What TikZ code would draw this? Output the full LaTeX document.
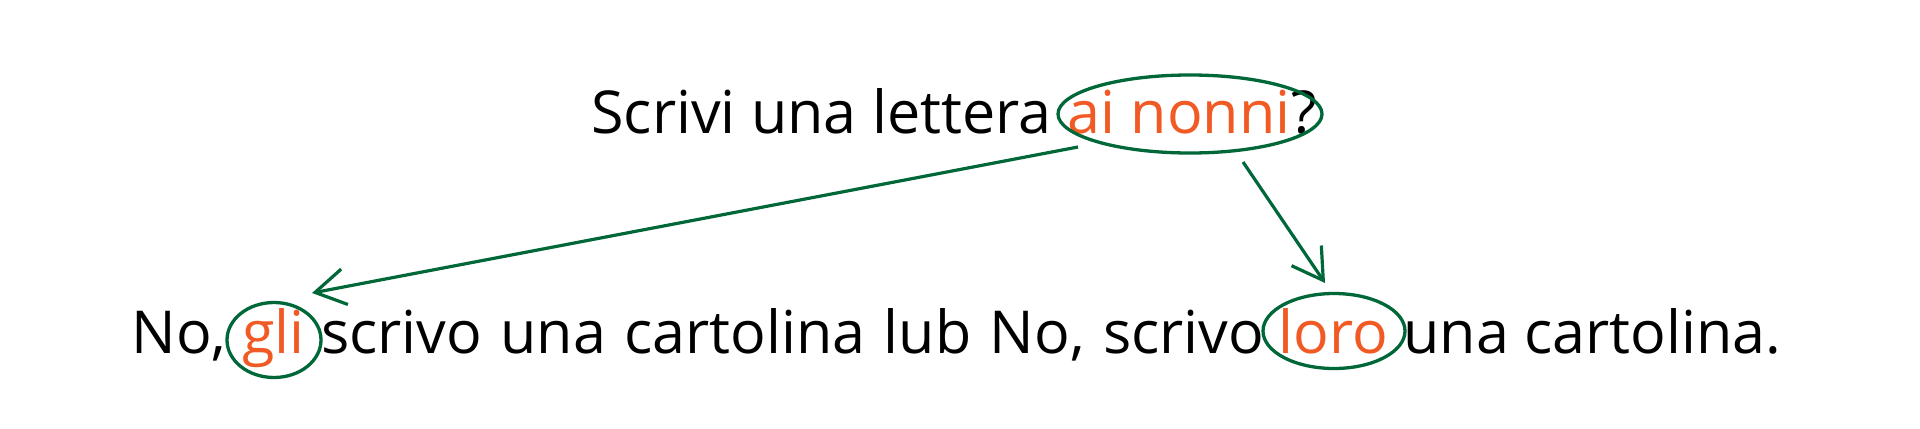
\documentclass[tikz,border=0pt]{standalone}
\usepackage{fontspec}
\setmainfont{Open Sans}
\usetikzlibrary{arrows.meta,shapes.geometric}
\definecolor{grn}{HTML}{006838}
\definecolor{org}{HTML}{F15A24}
\newlength\spw
\setlength\spw{7.7pt}
\begin{document}
\begin{tikzpicture}[x=0.5pt,y=-0.5pt,
  txt/.style={font=\fontsize{29.6}{35}\selectfont, inner sep=0pt, anchor=base west},
  hl/.style={txt, text=org},
  ring/.style={draw=grn, line width=1.65pt, ellipse, inner sep=0pt},
  link/.style={draw=grn, line width=1.6pt, -{Straight Barb[length=15pt,width=18pt]}}]
\useasboundingbox[fill=white] (0,0) rectangle (1920,428);
% top sentence
\node[txt] (q1) at (591,133) {Scrivi una lettera};
\node[hl] (q2) at ([xshift=\spw]q1.base east) {ai nonni};
\node[txt] (q3) at (q2.base east) {?};
% bottom sentence
\node[txt] (b1) at (131,353) {No,};
\node[hl] (gli) at ([xshift=\spw]b1.base east) {gli};
\node[txt] (b2) at ([xshift=\spw]gli.base east) {\spaceskip=9.2pt scrivo una cartolina lub No, scrivo};
\node[hl] (loro) at (1278,353) {loro};
\node[txt] (b3) at (1403,353) {una cartolina.};
% rings
\node[ring, minimum width=132pt, minimum height=39pt] (e1) at (1190,114) {};
\node[ring, minimum width=47pt, minimum height=37.5pt] (e2) at (274,340) {};
\node[ring, minimum width=71pt, minimum height=37.5pt] (e3) at (1334,331) {};
% arrows
\draw[link] ([shift={(-112,33)}]e1.center) -- ([shift={(38,-47)}]e2.center);
\draw[link] ([shift={(53,48)}]e1.center) -- ([shift={(-9,-48)}]e3.center);
\end{tikzpicture}
\end{document}
